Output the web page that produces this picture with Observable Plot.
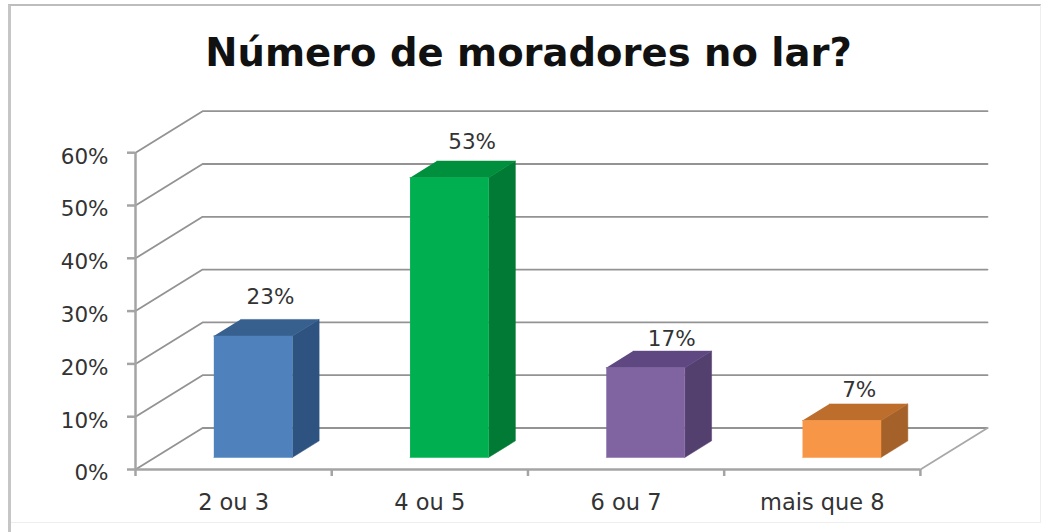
<!DOCTYPE html>
<html>
<head>
<meta charset="utf-8">
<script src="https://cdn.jsdelivr.net/npm/d3@7"></script>
<script src="https://cdn.jsdelivr.net/npm/@observablehq/plot@0.6"></script>
<style>
html,body{margin:0;padding:0;background:#fff;}
#wrap{position:relative;width:1049px;height:532px;overflow:hidden;}
#frame{position:absolute;left:8px;top:4px;width:1033px;height:519px;border-top:2.5px solid #bdbdbd;border-left:3px solid #c6c6c6;border-right:1px solid #eeeeee;border-bottom:1px solid #eeeeee;box-sizing:border-box;pointer-events:none;}
#leftTail{position:absolute;left:8px;top:520px;width:3px;height:12px;background:#c6c6c6;}
#title{height:96px;width:1057px;text-align:center;font:700 38.5px/106px "DejaVu Sans",sans-serif;color:#111;}
svg{display:block;}
</style>
</head>
<body>
<div id="wrap">
<div id="frame"></div>
<div id="leftTail"></div>
<div id="title">Número de moradores no lar?</div>
</div>
<script>
const categories = ["2 ou 3", "4 ou 5", "6 ou 7", "mais que 8"];
const percents = [23, 53, 17, 7];
const faceColors = ["#4f81bd", "#00b050", "#8064a2", "#f79646"];
const topColors = ["#37608f", "#008f3c", "#5f4882", "#bd6e2d"];
const sideColors = ["#2f5380", "#007a35", "#54406f", "#a5612a"];
const gridValues = [0, 10, 20, 30, 40, 50, 60];

// oblique projection of the chart's 3D box, in data units
const depthX = 67 / 196, depthY = 41.5 / 5.28;
const px = (c, d) => c + d * depthX;
const py = (v, d) => v + d * depthY;
const D0 = 0.29, D1 = 0.69, W0 = 0.3, W1 = 0.7;
const poly = pts => pts.map(([c, v, d]) => ({x: px(c, d), y: py(v, d)}));

const gridColor = "#939393";
const axisColor = "#a4a4a4";
const marks = [];

// back wall and side wall grid lines
for (const v of gridValues) {
  marks.push(Plot.line(poly([[0, v, 0], [0, v, 1], [4, v, 1]]), {x: "x", y: "y", stroke: gridColor, strokeWidth: 1.8}));
}
// floor right edge
marks.push(Plot.line(poly([[4, 0, 1], [4, 0, 0]]), {x: "x", y: "y", stroke: "#a8a8a8", strokeWidth: 1.8}));

// bars
percents.forEach((p, i) => {
  const a = i + W0, b = i + W1;
  const opt = c => ({x: "x", y: "y", fill: c, stroke: c, strokeWidth: 0.5});
  marks.push(Plot.line(poly([[b, 0, D0], [b, 0, D1], [b, p, D1], [b, p, D0]]), opt(sideColors[i])));
  marks.push(Plot.line(poly([[a, p, D0], [b, p, D0], [b, p, D1], [a, p, D1]]), opt(topColors[i])));
  marks.push(Plot.line(poly([[a, 0, D0], [b, 0, D0], [b, p, D0], [a, p, D0]]), opt(faceColors[i])));
});

// axes
marks.push(Plot.ruleY([0], {x1: 0, x2: 4, stroke: axisColor, strokeWidth: 2.5}));
marks.push(Plot.ruleX([0], {y1: 0, y2: 60, stroke: axisColor, strokeWidth: 2.5}));
marks.push(Plot.axisY({ticks: gridValues, tickSize: 8, tickPadding: 19, tickFormat: () => "", label: null, stroke: axisColor, strokeWidth: 2.5}));
marks.push(Plot.axisY({ticks: gridValues, tickSize: 8, tickPadding: 19, tickFormat: d => d + "%", label: null, stroke: "none", fill: "#333", fontSize: 21.5, dy: 4}));
marks.push(Plot.axisX({ticks: [0, 1, 2, 3, 4], tickSize: 7, tickFormat: () => "", label: null, stroke: axisColor, strokeWidth: 2.5}));
marks.push(Plot.axisX({ticks: categories.map((_, i) => i + 0.5), tickSize: 0, tickPadding: 25, tickFormat: d => categories[Math.floor(d)], label: null, fill: "#333", fontSize: 22.5}));

// value labels
const labelShift = [[0.55, 7.3], [0.63, 6.8], [0.68, 5.5], [0.55, 5.7]];
marks.push(Plot.text(percents.map((p, i) => ({
  x: px(i + 0.5, labelShift[i][0]),
  y: p + labelShift[i][1] + 0.29 * depthY,
  t: p + "%"
})), {x: "x", y: "y", text: "t", fill: "#333", fontSize: 21.5}));

const chart = Plot.plot({
  width: 1049,
  height: 436,
  marginLeft: 135,
  marginRight: 62,
  marginTop: 14.7,
  marginBottom: 63,
  x: {domain: [0, 4 + depthX], axis: null},
  y: {domain: [0, 60 + depthY], axis: null},
  style: {fontFamily: '"DejaVu Sans", sans-serif', background: "transparent", overflow: "visible"},
  marks
});
document.getElementById("wrap").appendChild(chart);
</script>
</body>
</html>
